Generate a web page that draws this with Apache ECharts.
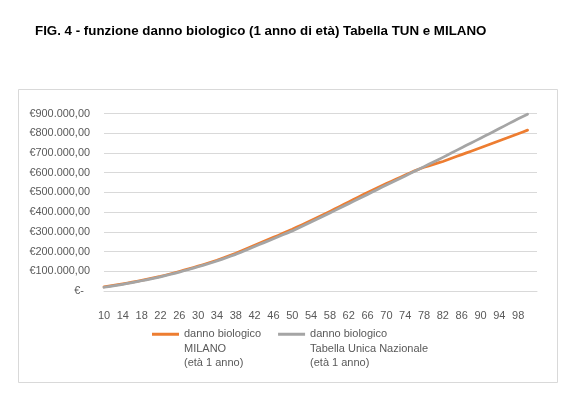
<!DOCTYPE html>
<html>
<head>
<meta charset="utf-8">
<script src="https://cdn.jsdelivr.net/npm/echarts@6/dist/echarts.min.js"></script>
<style>html,body{margin:0;padding:0;background:#fff}#c{width:565px;height:394px}</style>
</head>
<body>
<div id="c"></div>
<script>
// percentuale di invalidità (categorie dell'asse x), 10..102
const categories = [];
for (let p = 10; p <= 102; p++) categories.push(String(p));

const titleText = 'FIG. 4 - funzione danno biologico (1 anno di età) Tabella TUN e MILANO';
const seriesNames = ['danno biologico\nMILANO\n(età 1 anno)', 'danno biologico\nTabella Unica Nazionale\n(età 1 anno)'];

// danno biologico MILANO (età 1 anno), punti 10..100
const milano = [
  21000, 24600, 28300, 32100, 36000,
  40300, 44700, 49300, 54000,
  58900, 63800, 68800, 74000,
  80000, 86100, 92400, 99000,
  105600, 112300, 119100, 126000,
  133300, 140700, 148300, 156000,
  164600, 173300, 182100, 191000,
  201100, 211300, 221600, 232000,
  241900, 251900, 261900, 272000,
  282100, 292300, 302600, 313000,
  324100, 335300, 346600, 358000,
  369400, 380900, 392400, 404000,
  416000, 428000, 440000, 452000,
  464000, 476000, 488000, 500000,
  511200, 522400, 533700, 545000,
  555700, 566400, 577200, 588000,
  599000, 609500, 619000, 627500,
  635000, 642500, 649800, 657000,
  665700, 674400, 683200, 692000,
  700700, 709400, 718200, 727000,
  735700, 744400, 753200, 762000,
  771000, 780000, 789000, 798000,
  807000, 816000
];

// danno biologico Tabella Unica Nazionale (età 1 anno), punti 10..100
const tun = [
  19000, 22600, 26300, 30100, 34000,
  38300, 42700, 47300, 52000,
  56900, 61800, 66800, 72000,
  77800, 83800, 89800, 96000,
  102500, 109200, 116000, 123000,
  130000, 137200, 144500, 152000,
  160300, 168700, 177300, 186000,
  195800, 205700, 215800, 226000,
  235600, 245300, 255100, 265000,
  274900, 284900, 294900, 305000,
  316100, 327300, 338600, 350000,
  361400, 372900, 384400, 396000,
  407700, 419400, 431200, 443000,
  454700, 466400, 478200, 490000,
  502000, 514000, 526000, 538000,
  549500, 561000, 572500, 584000,
  595700, 607400, 619200, 631000,
  642700, 654400, 666200, 678000,
  690200, 702400, 714700, 727000,
  739000, 751000, 763000, 775000,
  787200, 799400, 811700, 824000,
  836500, 849000, 861500, 874000,
  885500, 897000
];

const yMin = 0, yMax = 900000, yStep = 100000;

function euro(v) {
  if (v === 0) return '€-  ';
  const s = Math.round(v).toString().replace(/\B(?=(\d{3})+(?!\d))/g, '.');
  return '€' + s + ',00';
}

const chart = echarts.init(document.getElementById('c'), null, {renderer: 'canvas'});
const font = '"Liberation Sans", Arial, sans-serif';
// legend icon: line at the top of a 27x32 box (tiny dot fixes the box size)
const legendIcon = 'path://M0,0H27V3H0Z M26.99,31.99H27V32H26.99Z';
chart.setOption({
  animation: false,
  backgroundColor: '#ffffff',
  title: {
    text: titleText,
    left: 35, top: 25, padding: 0,
    textStyle: {fontFamily: font, fontWeight: 'bold', fontSize: 13.33, color: '#000000'}
  },
  graphic: [{
    type: 'rect', shape: {x: 18.5, y: 89.5, width: 539, height: 293},
    style: {fill: 'none', stroke: '#d9d9d9', lineWidth: 1}, silent: true, z: -10
  }],
  legend: {
    left: 152, top: 327, padding: 0,
    itemWidth: 27, itemHeight: 32, itemGap: 17,
    icon: legendIcon,
    textStyle: {fontFamily: font, fontSize: 11, color: '#595959', lineHeight: 14.5},
    data: seriesNames
  },
  grid: {left: 104, right: 28, top: 113.6, bottom: 103, containLabel: false},
  xAxis: {
    type: 'category', data: categories, boundaryGap: false,
    axisLine: {lineStyle: {color: '#d9d9d9'}},
    axisTick: {show: false},
    axisLabel: {
      interval: 3, margin: 19, color: '#595959', fontFamily: font, fontSize: 11,
      formatter: v => (+v > 100 ? '' : v)
    },
    splitLine: {show: false}
  },
  yAxis: {
    type: 'value', min: yMin, max: yMax, interval: yStep,
    axisLine: {show: false}, axisTick: {show: false},
    axisLabel: {margin: 14, color: '#595959', fontFamily: font, fontSize: 10.9, formatter: euro},
    splitLine: {lineStyle: {color: '#d9d9d9', width: 1}}
  },
  series: [
    {name: seriesNames[0], type: 'line', data: milano, symbol: 'none', smooth: false,
     lineStyle: {color: '#ED7D31', width: 2.75, cap: 'round', join: 'round'}, itemStyle: {color: '#ED7D31'}},
    {name: seriesNames[1], type: 'line', data: tun, symbol: 'none', smooth: false,
     lineStyle: {color: '#A5A5A5', width: 2.75, cap: 'round', join: 'round'}, itemStyle: {color: '#A5A5A5'}}
  ]
});
</script>
</body>
</html>
